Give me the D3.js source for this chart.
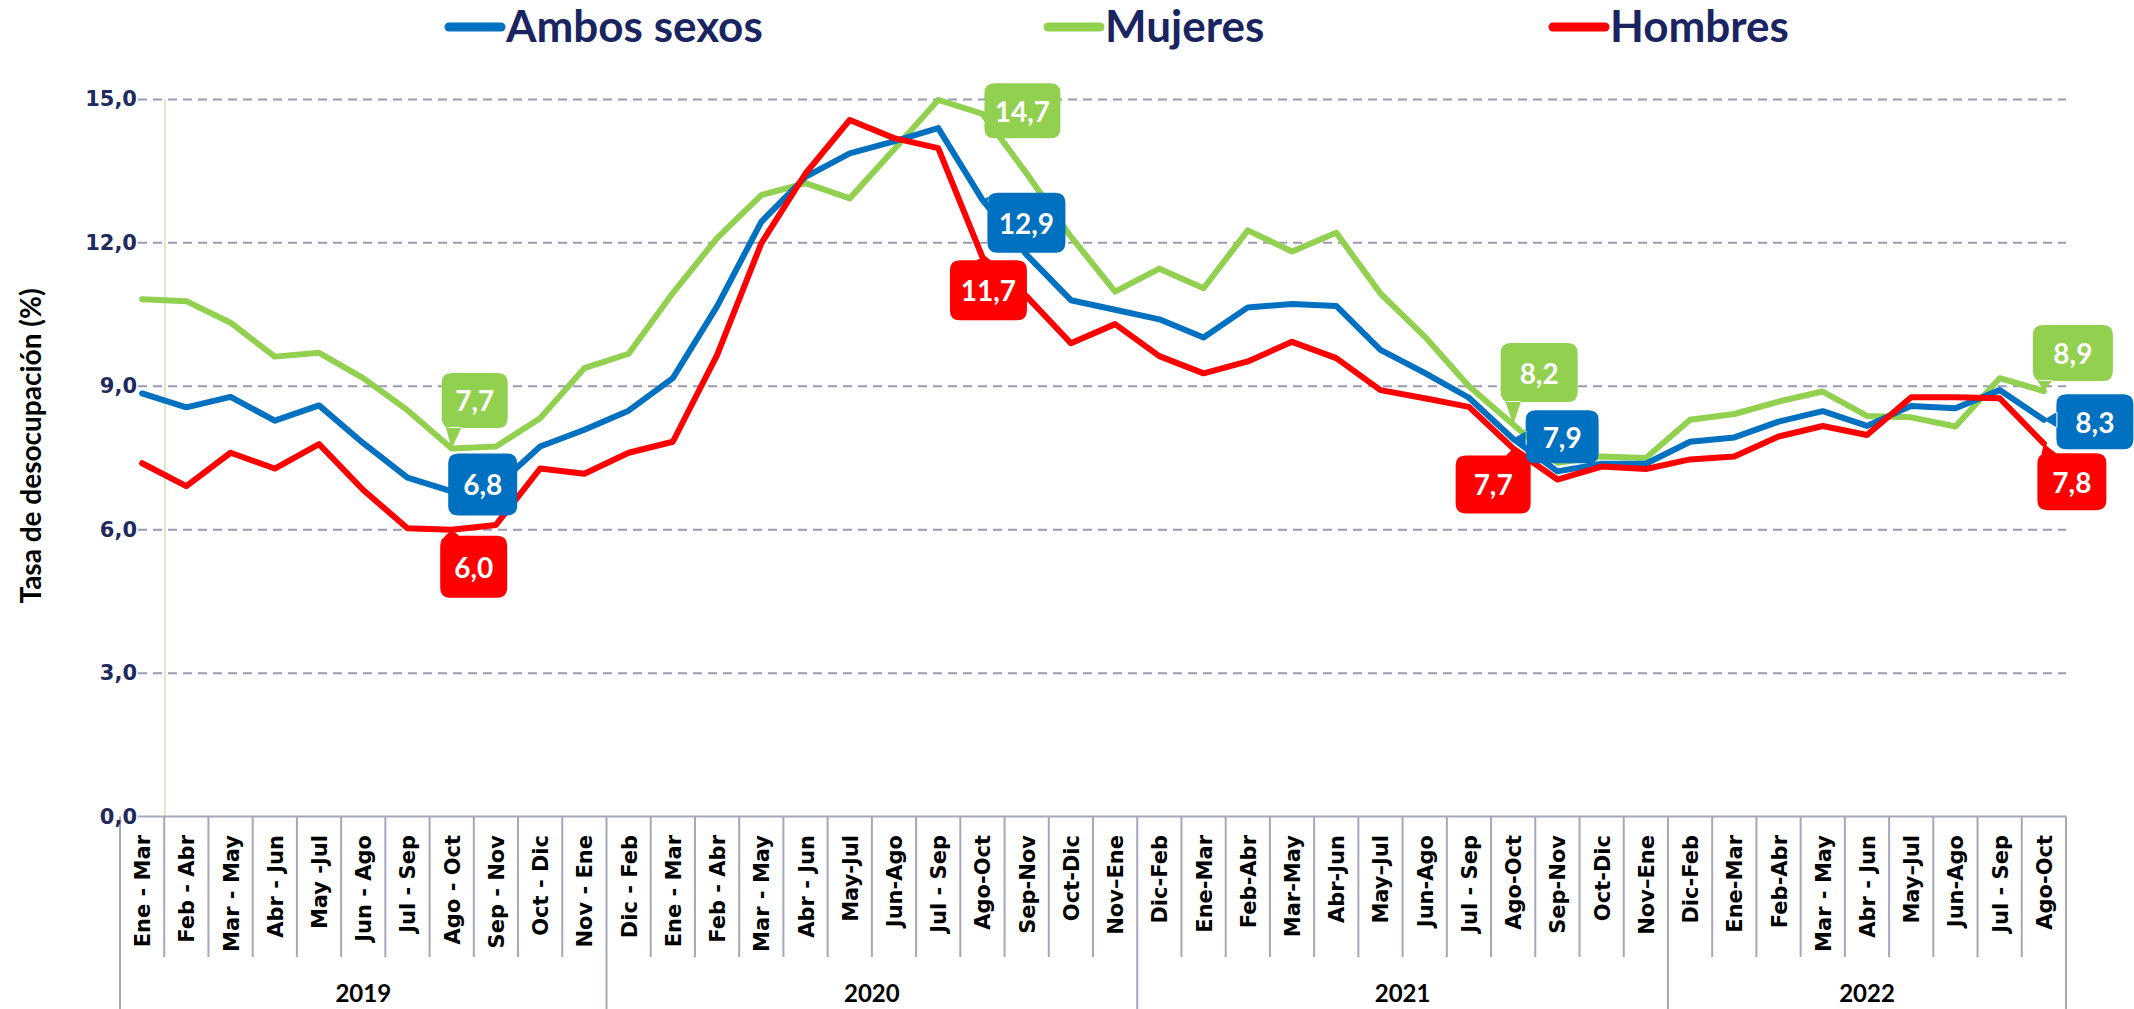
<!DOCTYPE html>
<html>
<head>
<meta charset="utf-8">
<title>Tasa de desocupación</title>
<style>
  body { margin: 0; background: #fff; }
  .ytick { font: bold 21px "DejaVu Sans"; fill: #1F2A5E; }
  .cat { font: bold 21px "DejaVu Sans"; fill: #000; }
  .year { font: bold 24px Lato; fill: #000; }
  .legend text { font: bold 44px Lato; fill: #1A2461; }
  .callout text { font: bold 28px Lato; fill: #fff; }
</style>
<script src="https://d3js.org/d3.v7.min.js"></script>
</head>
<body>
<div id="chart"></div>
<script>
// categorias (trimestres moviles)
var categories = [
  "Ene - Mar", "Feb - Abr", "Mar - May", "Abr - Jun", "May -Jul", "Jun - Ago", "Jul - Sep", "Ago - Oct", "Sep - Nov", "Oct - Dic", "Nov - Ene",
  "Dic - Feb", "Ene - Mar", "Feb - Abr", "Mar - May", "Abr - Jun", "May-Jul", "Jun-Ago", "Jul - Sep", "Ago-Oct", "Sep-Nov", "Oct-Dic", "Nov\u2013Ene",
  "Dic-Feb", "Ene-Mar", "Feb-Abr", "Mar-May", "Abr-Jun", "May\u2013Jul", "Jun-Ago", "Jul - Sep", "Ago-Oct", "Sep-Nov", "Oct-Dic", "Nov\u2013Ene",
  "Dic-Feb", "Ene-Mar", "Feb-Abr", "Mar - May", "Abr - Jun", "May\u2013Jul", "Jun-Ago", "Jul - Sep", "Ago-Oct"
];
var years = ["2019", "2020", "2021", "2022"];
var yearSpans = [11, 12, 12, 9];

var ambos = [
  8.85, 8.56, 8.78, 8.28, 8.60, 7.81, 7.09, 6.8, 6.9, 7.74, 8.09,
  8.49, 9.17, 10.67, 12.44, 13.38, 13.87, 14.12, 14.40, 12.9, 11.75, 10.80, 10.60,
  10.40, 10.02, 10.65, 10.72, 10.68, 9.76, 9.28, 8.76, 7.9, 7.22, 7.38, 7.38,
  7.84, 7.93, 8.26, 8.48, 8.17, 8.59, 8.54, 8.92, 8.3
];
var mujeres = [
  10.82, 10.78, 10.33, 9.62, 9.70, 9.17, 8.50, 7.7, 7.74, 8.33, 9.38,
  9.68, 10.95, 12.10, 13.0, 13.25, 12.93, 13.95, 14.99, 14.7, 13.45, 12.13, 10.98,
  11.46, 11.05, 12.26, 11.82, 12.21, 10.94, 10.04, 9.0, 8.2, 7.4, 7.53, 7.5,
  8.30, 8.42, 8.68, 8.89, 8.38, 8.35, 8.16, 9.17, 8.9
];
var hombres = [
  7.39, 6.91, 7.61, 7.28, 7.79, 6.83, 6.03, 6.0, 6.10, 7.28, 7.17,
  7.61, 7.84, 9.65, 11.99, 13.45, 14.57, 14.19, 13.98, 11.7, 10.88, 9.90, 10.30,
  9.63, 9.27, 9.52, 9.93, 9.59, 8.92, 8.75, 8.57, 7.7, 7.05, 7.32, 7.27,
  7.47, 7.53, 7.95, 8.17, 7.98, 8.77, 8.77, 8.75, 7.8
];
var seriesNames = ["Ambos sexos", "Mujeres", "Hombres"];
var yTicks = [0, 3, 6, 9, 12, 15];
// puntos con etiqueta
var labelIdx = [7, 19, 31, 43];

var colors = { "Ambos sexos": "#0070C0", "Mujeres": "#92D050", "Hombres": "#FF0000" };
var values = { "Ambos sexos": ambos, "Mujeres": mujeres, "Hombres": hombres };

// dimensiones
var width = 2134, height = 1009;
var plot = { left: 120, right: 2066, top: 99.4, bottom: 816.6 };

var svg = d3.select("#chart").append("svg")
  .attr("width", width)
  .attr("height", height);

var x = d3.scaleBand()
  .domain(d3.range(categories.length))
  .range([plot.left, plot.right]);

var y = d3.scaleLinear()
  .domain([0, 15])
  .range([plot.bottom, plot.top]);

var fmt = d3.formatLocale({ decimal: ",", thousands: ".", grouping: [3], currency: ["", ""] }).format(".1f");

function cx(i) { return x(i) + x.bandwidth() / 2; }

// lineas de division (punteadas)
svg.append("g")
  .selectAll("line")
  .data(yTicks.filter(function(d) { return d > 0; }))
  .enter().append("line")
  .attr("x1", plot.left + 18).attr("x2", plot.right)
  .attr("y1", function(d) { return y(d); })
  .attr("y2", function(d) { return y(d); })
  .attr("stroke", "#9C9AB4")
  .attr("stroke-width", 2)
  .attr("stroke-dasharray", "9,6");

// linea verde vertical
svg.append("line")
  .attr("x1", 165).attr("x2", 165)
  .attr("y1", y(15)).attr("y2", y(0))
  .attr("stroke", "#DCE9C4")
  .attr("stroke-width", 2);

// eje x
svg.append("line")
  .attr("x1", plot.left + 18).attr("x2", plot.right)
  .attr("y1", y(0)).attr("y2", y(0))
  .attr("stroke", "#A6A6BC")
  .attr("stroke-width", 2);

// divisores de categorias y anos
var yearEdges = [0];
yearSpans.forEach(function(s, k) { yearEdges.push(yearEdges[k] + s); });

svg.append("g")
  .selectAll("line")
  .data(d3.range(categories.length + 1))
  .enter().append("line")
  .attr("x1", function(i) { return plot.left + i * x.step(); })
  .attr("x2", function(i) { return plot.left + i * x.step(); })
  .attr("y1", y(0))
  .attr("y2", function(i) { return yearEdges.indexOf(i) >= 0 ? height : 957; })
  .attr("stroke", "#A6A6BC")
  .attr("stroke-width", 2);

// etiquetas de categorias
svg.append("g")
  .selectAll("text")
  .data(categories)
  .enter().append("text")
  .attr("class", "cat")
  .attr("transform", function(d, i) { return "translate(" + (cx(i) + 1) + ",835) rotate(-90)"; })
  .attr("text-anchor", "end")
  .attr("dominant-baseline", "central")
  .text(function(d) { return d; });

// etiquetas de anos
svg.append("g")
  .selectAll("text")
  .data(years)
  .enter().append("text")
  .attr("class", "year")
  .attr("x", function(d, k) { return plot.left + (yearEdges[k] + yearEdges[k + 1]) / 2 * x.step(); })
  .attr("y", 1002)
  .attr("text-anchor", "middle")
  .text(function(d) { return d; });

// eje y
svg.append("g")
  .selectAll("text")
  .data(yTicks)
  .enter().append("text")
  .attr("class", "ytick")
  .attr("x", 137)
  .attr("y", function(d) { return y(d); })
  .attr("text-anchor", "end")
  .attr("dominant-baseline", "central")
  .text(function(d) { return fmt(d); });

svg.append("text")
  .attr("transform", "translate(30," + 446 + ") rotate(-90)")
  .attr("text-anchor", "middle")
  .attr("dominant-baseline", "central")
  .style("font", "bold 28px Lato")
  .attr("fill", "#000")
  .text("Tasa de desocupación (%)");

// lineas de series
var line = d3.line()
  .x(function(d, i) { return cx(i); })
  .y(function(d) { return y(d); });

["Mujeres", "Ambos sexos", "Hombres"].forEach(function(k) {
  svg.append("path")
    .datum(values[k])
    .attr("fill", "none")
    .attr("stroke", colors[k])
    .attr("stroke-width", 6)
    .attr("stroke-linejoin", "round")
    .attr("stroke-linecap", "round")
    .attr("d", line);
});

// recuadros de etiquetas: desplazamiento del centro y tamano
var boxLayout = {
  "Mujeres":     [[23, -48, 66, 55], [40, -3, 76, 55], [26, -52, 77, 59], [29, -38, 80, 56]],
  "Hombres":     [[22, 37, 67, 62], [6, 33, 77, 60], [-20, 36, 75, 58], [28, 38, 69, 57]],
  "Ambos sexos": [[31, -7, 69, 62], [44, 23, 78, 60], [49, -2, 73, 53], [51, 2, 77, 55]]
};

function clamp(v, a, b) { return Math.max(a, Math.min(b, v)); }

function calloutPath(px, py, x0, y0, x1, y1) {
  var r = 10;
  var p = d3.path();
  p.moveTo(x0 + r, y0);
  p.lineTo(x1 - r, y0); p.quadraticCurveTo(x1, y0, x1, y0 + r);
  p.lineTo(x1, y1 - r); p.quadraticCurveTo(x1, y1, x1 - r, y1);
  p.lineTo(x0 + r, y1); p.quadraticCurveTo(x0, y1, x0, y1 - r);
  p.lineTo(x0, y0 + r); p.quadraticCurveTo(x0, y0, x0 + r, y0);
  p.closePath();
  var b;
  if (py > y1 + 2) {
    b = clamp(px, x0 + 12, x1 - 12);
    p.moveTo(b - 8, y1 - 1); p.lineTo(px, py); p.lineTo(b + 8, y1 - 1); p.closePath();
  } else if (py < y0 - 2) {
    b = clamp(px, x0 + 12, x1 - 12);
    p.moveTo(b - 8, y0 + 1); p.lineTo(px, py); p.lineTo(b + 8, y0 + 1); p.closePath();
  } else if (px < x0 - 2) {
    b = clamp(py, y0 + 12, y1 - 12);
    p.moveTo(x0 + 1, b - 8); p.lineTo(px, py); p.lineTo(x0 + 1, b + 8); p.closePath();
  } else if (px > x1 + 2) {
    b = clamp(py, y0 + 12, y1 - 12);
    p.moveTo(x1 - 1, b - 8); p.lineTo(px, py); p.lineTo(x1 - 1, b + 8); p.closePath();
  }
  return p.toString();
}

["Mujeres", "Hombres", "Ambos sexos"].forEach(function(k) {
  var g = svg.append("g").attr("class", "callout");
  labelIdx.forEach(function(i, n) {
    var v = values[k][i];
    var px = cx(i), py = y(v);
    var L = boxLayout[k][n];
    var bx = px + L[0], by = py + L[1];
    var x0 = bx - L[2] / 2, x1 = bx + L[2] / 2, y0 = by - L[3] / 2, y1 = by + L[3] / 2;
    g.append("path")
      .attr("d", calloutPath(px, py, x0, y0, x1, y1))
      .attr("fill", colors[k]);
    g.append("text")
      .attr("x", bx)
      .attr("y", by)
      .attr("text-anchor", "middle")
      .attr("dominant-baseline", "central")
      .text(fmt(v));
  });
});

// leyenda
var legendX = [449, 1048, 1553];
var legend = svg.append("g").attr("class", "legend");
seriesNames.forEach(function(k, n) {
  legend.append("line")
    .attr("x1", legendX[n]).attr("x2", legendX[n] + 52)
    .attr("y1", 27).attr("y2", 27)
    .attr("stroke", colors[k])
    .attr("stroke-width", 9)
    .attr("stroke-linecap", "round");
  legend.append("text")
    .attr("x", legendX[n] + 57)
    .attr("y", 42)
    .text(k);
});
</script>
</body>
</html>
